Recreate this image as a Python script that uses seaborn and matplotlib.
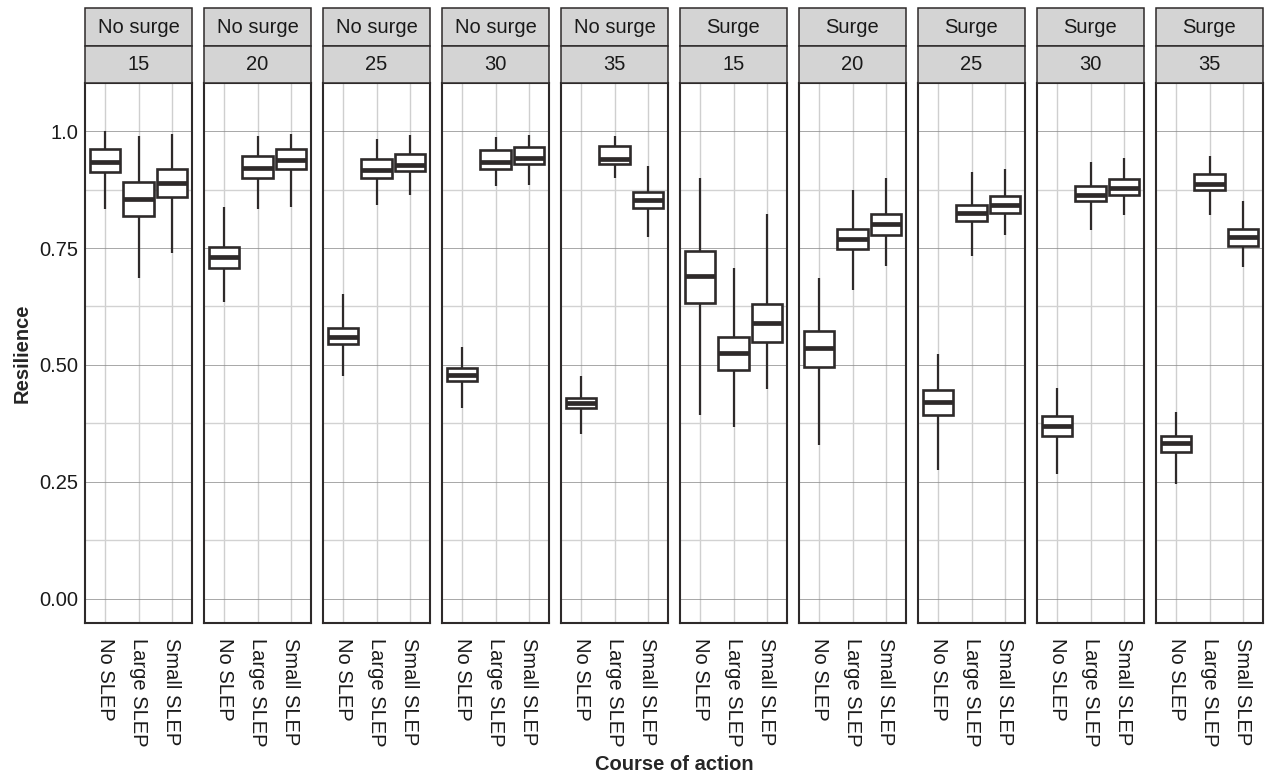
import numpy as np
import pandas as pd
import matplotlib
matplotlib.use("Agg")
import matplotlib.pyplot as plt
import seaborn as sns
from matplotlib.patches import Rectangle

# ---------------- data ----------------
surge_labels = ["No surge"] * 5 + ["Surge"] * 5
size_labels = ["15", "20", "25", "30", "35"] * 2
actions = ["No SLEP", "Large SLEP", "Small SLEP"]

# five-number summaries per panel; inner order = actions
whisker_low = [
    [0.833, 0.685, 0.740],
    [0.635, 0.833, 0.838],
    [0.476, 0.842, 0.863],
    [0.407, 0.882, 0.885],
    [0.353, 0.900, 0.774],
    [0.392, 0.367, 0.449],
    [0.328, 0.660, 0.712],
    [0.275, 0.733, 0.777],
    [0.266, 0.788, 0.821],
    [0.245, 0.821, 0.710],
]
q1 = [
    [0.912, 0.819, 0.860],
    [0.707, 0.900, 0.919],
    [0.545, 0.900, 0.914],
    [0.466, 0.919, 0.929],
    [0.407, 0.929, 0.835],
    [0.632, 0.489, 0.548],
    [0.496, 0.749, 0.777],
    [0.393, 0.808, 0.825],
    [0.348, 0.850, 0.863],
    [0.313, 0.874, 0.755],
]
median = [
    [0.935, 0.855, 0.889],
    [0.730, 0.922, 0.938],
    [0.560, 0.917, 0.928],
    [0.479, 0.933, 0.942],
    [0.419, 0.940, 0.852],
    [0.691, 0.526, 0.590],
    [0.536, 0.770, 0.801],
    [0.421, 0.824, 0.843],
    [0.370, 0.864, 0.879],
    [0.332, 0.887, 0.774],
]
q3 = [
    [0.961, 0.891, 0.920],
    [0.752, 0.946, 0.962],
    [0.579, 0.940, 0.951],
    [0.493, 0.959, 0.967],
    [0.430, 0.969, 0.870],
    [0.744, 0.560, 0.630],
    [0.572, 0.790, 0.823],
    [0.447, 0.842, 0.862],
    [0.391, 0.882, 0.897],
    [0.348, 0.908, 0.790],
]
whisker_high = [
    [1.000, 0.989, 0.994],
    [0.838, 0.989, 0.993],
    [0.652, 0.984, 0.992],
    [0.539, 0.987, 0.991],
    [0.476, 0.989, 0.925],
    [0.900, 0.708, 0.822],
    [0.686, 0.875, 0.899],
    [0.523, 0.913, 0.918],
    [0.451, 0.933, 0.942],
    [0.400, 0.947, 0.851],
]

y_ticks = [0.0, 0.25, 0.5, 0.75, 1.0]
y_tick_labels = ["0.00", "0.25", "0.50", "0.75", "1.0"]

# long-form table: five values per box reproduce the summary exactly
rows = []
for p in range(10):
    for j, a in enumerate(actions):
        for v in (whisker_low[p][j], q1[p][j], median[p][j], q3[p][j], whisker_high[p][j]):
            rows.append({"panel": p, "action": a, "value": v})
df = pd.DataFrame(rows)

# ---------------- style ----------------
sns.set_style("white")
plt.rcParams["font.family"] = ["Liberation Sans", "DejaVu Sans"]
FS = 14.5
DARK = "#2e2a2a"

W, H = 1265, 778
fig = plt.figure(figsize=(W / 100, H / 100), dpi=100)
left0, pitch, pw = 85, 119, 107
top, bottom = 83, 623
strip_top, strip_mid = 8, 45.5

for p in range(10):
    x0 = left0 + p * pitch
    ax = fig.add_axes([x0 / W, 1 - bottom / H, pw / W, (bottom - top) / H])
    sub = df[df["panel"] == p]
    sns.boxplot(
        data=sub, x="action", y="value", order=actions, ax=ax,
        whis=(0, 100), width=0.9, showcaps=False, fliersize=0,
        color="white", linecolor=DARK, linewidth=1.6,
        boxprops=dict(facecolor="white", edgecolor=DARK, linewidth=1.9),
        whiskerprops=dict(color=DARK, linewidth=1.6),
        medianprops=dict(color=DARK, linewidth=3.4, solid_capstyle="butt"),
    )
    ax.set_xlim(-0.6, 2.6)
    ax.set_ylim(-0.052, 1.103)
    ax.set_yticks(y_ticks)
    ax.set_yticks([0.125, 0.375, 0.625, 0.875], minor=True)
    ax.set_axisbelow(True)
    ax.yaxis.grid(True, which="major", color="#8f8f8f", linewidth=0.55)
    ax.yaxis.grid(True, which="minor", color="#d2d2d2", linewidth=1.0)
    ax.xaxis.grid(True, which="major", color="#cfcfcf", linewidth=1.0)
    for s in ax.spines.values():
        s.set_visible(True)
        s.set_color(DARK)
        s.set_linewidth(1.5)
    ax.tick_params(axis="both", which="major", direction="in", length=4,
                   width=1, color=DARK, labelsize=FS, labelcolor="#1a1a1a")
    ax.tick_params(axis="y", which="minor", length=0)
    ax.tick_params(axis="x", pad=11)
    ax.tick_params(axis="y", pad=5)
    ax.set_xticks(range(3))
    ax.set_xticklabels(actions, rotation=270, ha="center", va="top")
    if p == 0:
        ax.set_yticklabels(y_tick_labels)
    else:
        ax.tick_params(axis="y", labelleft=False)
    ax.set_xlabel("")
    ax.set_ylabel("")

    # facet strips (two rows)
    for (yt, yb, lab) in [(strip_top, strip_mid, surge_labels[p]),
                          (strip_mid, top, size_labels[p])]:
        rect = Rectangle((x0 / W, 1 - yb / H), pw / W, (yb - yt) / H,
                         transform=fig.transFigure, facecolor="#d4d4d4",
                         edgecolor=DARK, linewidth=1.1, zorder=3)
        fig.add_artist(rect)
        fig.text((x0 + pw / 2) / W, 1 - ((yt + yb) / 2 + 0.5) / H, lab,
                 ha="center", va="center", fontsize=FS, color="#1a1a1a", zorder=4)

fig.text((left0 + (9 * pitch + pw) / 2) / W, 1 - 765 / H, "Course of action",
         ha="center", va="center", fontsize=FS, fontweight="bold")
fig.text(22 / W, 1 - (top + bottom) / 2 / H, "Resilience", rotation=90,
         ha="center", va="center", fontsize=FS, fontweight="bold")

fig.savefig("out.png", dpi=100)
